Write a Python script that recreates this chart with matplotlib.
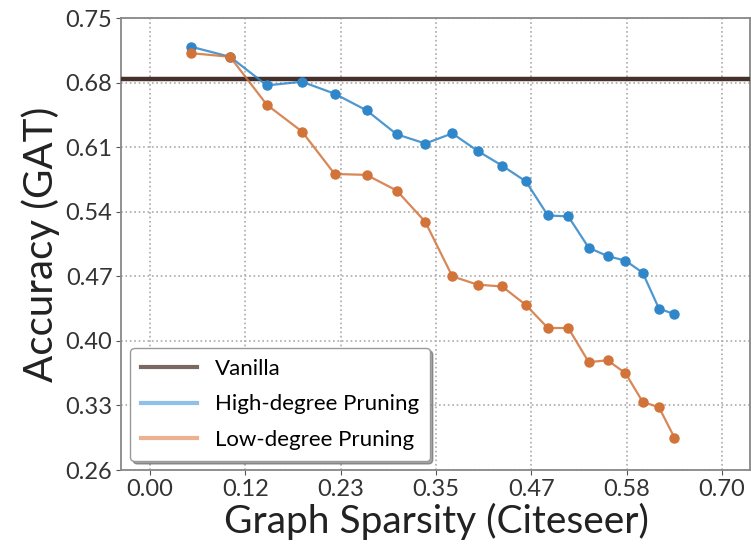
import matplotlib
matplotlib.use("Agg")
import matplotlib.pyplot as plt
from matplotlib.lines import Line2D

# graph sparsity levels (x)
sparsity = [0.050, 0.098, 0.143, 0.186, 0.226, 0.265, 0.302, 0.337, 0.370, 0.401,
            0.431, 0.460, 0.487, 0.512, 0.537, 0.560, 0.582, 0.603, 0.623, 0.642]

high_degree = [0.719, 0.708, 0.677, 0.681, 0.668, 0.650, 0.624, 0.614, 0.625, 0.606,
               0.590, 0.573, 0.536, 0.535, 0.501, 0.492, 0.487, 0.474, 0.435, 0.429]

low_degree = [0.712, 0.708, 0.656, 0.627, 0.581, 0.580, 0.563, 0.529, 0.470, 0.461,
              0.459, 0.439, 0.414, 0.414, 0.377, 0.379, 0.365, 0.334, 0.328, 0.295]

vanilla = 0.684

xticks = [0.0, 0.7 / 6, 1.4 / 6, 0.35, 2.8 / 6, 3.5 / 6, 0.7]
yticks = [0.26, 0.33, 0.40, 0.47, 0.54, 0.61, 0.68, 0.75]

c_van = "#45302b"
c_high = "#2f86c8"
c_low = "#d2733a"

plt.rcParams["font.family"] = ["Lato", "DejaVu Sans"]

fig = plt.figure(figsize=(7.51, 5.53), dpi=100)
ax = fig.add_axes([0.1617, 0.15, 0.8376, 0.8173])

ax.axhline(vanilla, color=c_van, lw=3.2, zorder=3)
ax.plot(sparsity, high_degree, color=c_high, lw=1.6, alpha=0.85, zorder=4)
ax.plot(sparsity, high_degree, "o", color=c_high, ms=6.5, zorder=5)
ax.plot(sparsity, low_degree, color=c_low, lw=1.6, alpha=0.85, zorder=4)
ax.plot(sparsity, low_degree, "o", color=c_low, ms=6.5, zorder=5)

ax.set_xlim(-0.035, 0.735)
ax.set_ylim(0.26, 0.75)
ax.set_xticks(xticks)
ax.set_xticklabels(["%.2f" % t for t in xticks])
ax.set_yticks(yticks)
ax.set_yticklabels(["%.2f" % t for t in yticks])
ax.tick_params(labelsize=17, color="#555555", labelcolor="#333333", pad=3)
ax.grid(True, linestyle=":", color="#aaaaaa", lw=1.2)

for s in ax.spines.values():
    s.set_color("#888888")
    s.set_linewidth(1.3)

ax.set_xlabel("Graph Sparsity (Citeseer)", fontsize=28, labelpad=2, color="#222222")
ax.set_ylabel("Accuracy (GAT)", fontsize=29, labelpad=4, color="#222222")

handles = [Line2D([], [], color="#7a6862", lw=3),
           Line2D([], [], color="#8ec0e8", lw=3),
           Line2D([], [], color="#ebb190", lw=3)]
ax.legend(handles, ["Vanilla", "High-degree Pruning", "Low-degree Pruning"],
          loc="lower left", fontsize=16, handlelength=2.5, shadow=True,
          labelspacing=0.7, borderpad=0.5,
          framealpha=1, edgecolor="#999999", borderaxespad=0.4)

fig.savefig("out.png", dpi=100)
